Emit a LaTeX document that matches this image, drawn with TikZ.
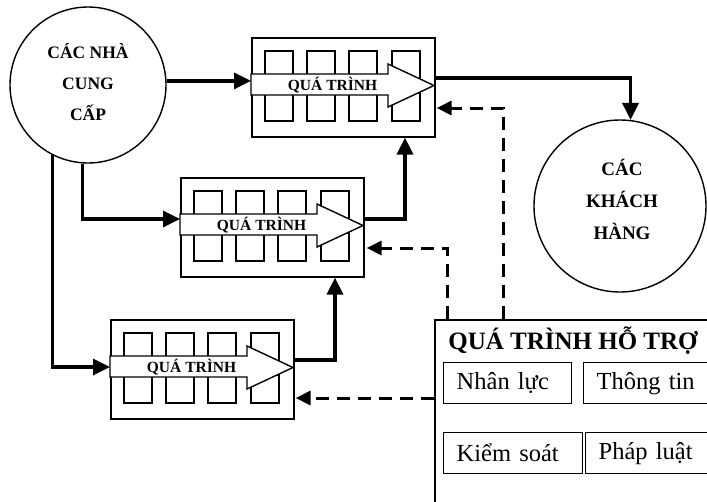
\documentclass[tikz,border=0pt]{standalone}
\usepackage{fontspec}
\setmainfont{Liberation Serif}
\usetikzlibrary{arrows.meta,calc}
\tikzset{
 conn/.style={line width=3.4pt, -{Triangle[length=17pt,width=16pt]}},
 dconn/.style={line width=3pt, dash pattern=on 13pt off 8pt, -{Triangle[length=15pt,width=14pt]}},
 circ/.style={circle, draw, line width=1.4pt, inner sep=0pt},
 ctext/.style={align=center, font=\fontsize{17.5}{31}\selectfont\bfseries},
 pbox/.style={draw, line width=1.6pt, minimum width=183pt, minimum height=99pt, inner sep=0pt, anchor=north west},
 sq/.style={line width=1.4pt},
 parrow/.style={draw, fill=white, line width=1.4pt},
 ptext/.style={font=\fontsize{15.5}{18}\selectfont\bfseries},
 subbox/.style={draw, line width=1.4pt, anchor=north west, inner ysep=0pt, inner xsep=13pt, minimum height=41pt, align=left, font=\fontsize{24.5}{28}\selectfont},
}
\newcommand{\procbox}[3]{%
 \node[pbox] (#1) at (#2,#3) {};
 \begin{scope}[shift={(#2,#3)}]
  \foreach \dx in {14,56,98,141}{
    \draw[sq] (\dx,14) rectangle ++(28,28);
    \draw[sq] (\dx,56) rectangle ++(28,28);}
  \draw[parrow] (0,37) -- (137,37) -- (137,27) -- (183,48.5) -- (137,70) -- (137,58) -- (0,58) -- cycle;
  \node[ptext] (#1-t) at (81.5,48.5) {QUÁ TRÌNH};
 \end{scope}}
\begin{document}
\begin{tikzpicture}[x=1pt,y=-1pt]
\clip (0,0) rectangle (707,501);
\fill[white] (0,0) rectangle (707,501);

% suppliers
\node[circ, minimum size=156pt] (sup) at (88,85) {};
\node[ctext] (sup-t) at (88,82) {CÁC NHÀ\\CUNG\\CẤP};

% customers
\node[circ, minimum size=172pt] (cust) at (620,206) {};
\node[ctext, font=\fontsize{19}{32}\selectfont\bfseries] (cust-t) at (622,199) {CÁC\\KHÁCH\\HÀNG};

% process boxes
\procbox{p1}{251}{37}
\procbox{p2}{180}{177}
\procbox{p3}{110}{319}

% support box
\node[draw, line width=1.6pt, anchor=north west, minimum width=320pt, minimum height=220pt, inner sep=0pt] (hotro) at (434,319) {};
\node[font=\fontsize{25}{30}\selectfont\bfseries] (hotro-t) at (573,341) {QUÁ TRÌNH HỖ TRỢ};
\node[subbox, text width=102pt] (nl) at (443,362) {Nhân lực};
\node[subbox, text width=114pt] (tt) at (583,362) {Thông tin};
\node[subbox, text width=113pt] (ks) at (443,432) {Kiểm soát};
\node[subbox, text width=114pt] (pl) at (585,432) {Pháp luật};

% solid connectors
\draw[conn] (sup.3) -- (sup.3 -| p1.west);
\draw[conn] (sup.266) |- ($(p2.north west)+(0,42)$);
\draw[conn] (sup.243) |- ($(p3.north west)+(0,48)$);
\draw[conn] ($(p1.north east)+(0,41)$) -| (cust.83);
\draw[conn] ($(p2.north east)+(0,42)$) -| ($(p1.south west)+(154,0)$);
\draw[conn] ($(p3.north east)+(0,41)$) -| ($(p2.south west)+(155,0)$);

% dashed connectors
\draw[dconn] ($(hotro.north west)+(69,0)$) |- ($(p1.north east)+(1,71)$);
\draw[dconn] ($(hotro.north west)+(13,0)$) |- ($(p2.north east)+(2,71)$);
\draw[dconn] ($(hotro.north west)+(0,79)$) -- ($(p3.north east)+(1,79)$);
\end{tikzpicture}
\end{document}
